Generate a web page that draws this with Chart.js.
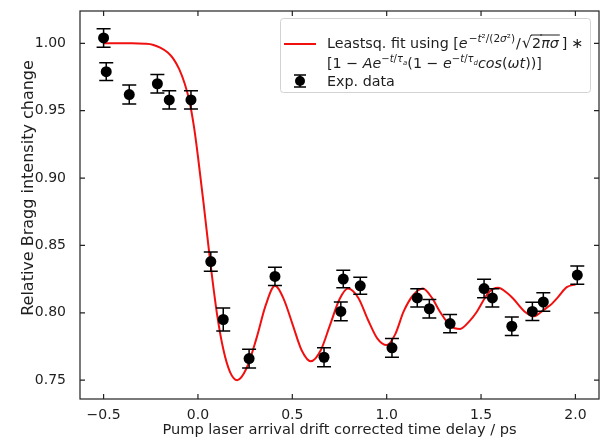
<!DOCTYPE html>
<html>
<head>
<meta charset="utf-8">
<script src="https://cdn.jsdelivr.net/npm/chart.js@4.4.0/dist/chart.umd.min.js"></script>
<style>
  body { margin: 0; background: #fff; }
</style>
</head>
<body>
<canvas id="grafico" width="601" height="439"></canvas>
<script>
// measured data (time delay in ps, relative intensity, error)
const tempo = [-0.500, -0.486, -0.364, -0.215, -0.152, -0.037, 0.068, 0.134, 0.271, 0.408, 0.668, 0.757,
  0.770, 0.860, 1.028, 1.162, 1.226, 1.336, 1.516, 1.560, 1.663, 1.772, 1.830, 2.010];
const intensidade = [1.004, 0.979, 0.962, 0.970, 0.958, 0.958, 0.838, 0.795, 0.766, 0.827, 0.767, 0.801,
  0.825, 0.820, 0.774, 0.811, 0.803, 0.792, 0.818, 0.811, 0.790, 0.801, 0.808, 0.828];
const erro = [0.0069, 0.0065, 0.0071, 0.0068, 0.0068, 0.0068, 0.0071, 0.0086, 0.0069, 0.0068, 0.0071, 0.0070,
  0.0065, 0.0063, 0.0070, 0.0068, 0.0068, 0.0068, 0.0068, 0.0068, 0.0068, 0.0068, 0.0068, 0.0068];

// fit curve
const tempoAjuste = [-0.5, -0.35, -0.28, -0.24, -0.2, -0.16, -0.13, -0.1, -0.07, -0.045, -0.02, 0.0, 0.03,
  0.065, 0.10, 0.135, 0.17, 0.208, 0.258, 0.31, 0.36, 0.408, 0.455, 0.50, 0.55, 0.598, 0.65, 0.70, 0.75,
  0.794, 0.85, 0.90, 0.95, 1.00, 1.045, 1.09, 1.14, 1.192, 1.24, 1.283, 1.34, 1.389, 1.44, 1.477, 1.54,
  1.59, 1.64, 1.671, 1.73, 1.781, 1.83, 1.866, 1.91, 1.954, 2.0];
const valorAjuste = [1.000, 1.000, 0.9997, 0.999, 0.9968, 0.9932, 0.9885, 0.981, 0.970, 0.957, 0.937,
  0.916, 0.881, 0.838, 0.800, 0.7725, 0.756, 0.750, 0.759, 0.781, 0.806, 0.820, 0.810, 0.792, 0.772, 0.764,
  0.772, 0.791, 0.810, 0.818, 0.811, 0.795, 0.781, 0.776, 0.784, 0.801, 0.813, 0.818, 0.811, 0.8006, 0.790,
  0.788, 0.794, 0.8006, 0.815, 0.8185, 0.8145, 0.8104, 0.801, 0.7975, 0.802, 0.8055, 0.812, 0.819, 0.821];

const ticksX = [-0.5, 0.0, 0.5, 1.0, 1.5, 2.0];
const ticksY = [0.75, 0.80, 0.85, 0.90, 0.95, 1.00];

const fonte = '"DejaVu Sans", sans-serif';
const corTexto = '#1e1e1e';

function escreve(ctx, x, y, partes) {
  for (const p of partes) {
    const tam = p.s || 14.3;
    ctx.font = (p.it ? 'italic ' : '') + tam + 'px ' + fonte;
    ctx.fillText(p.t, x, y + (p.dy || 0));
    const w = ctx.measureText(p.t).width;
    if (p.barra) {
      ctx.beginPath();
      ctx.moveTo(x - 1, y - 13);
      ctx.lineTo(x + w + 1, y - 13);
      ctx.lineWidth = 1;
      ctx.strokeStyle = corTexto;
      ctx.stroke();
    }
    x += w + (p.gap || 0);
  }
  return x;
}

const moldura = {
  id: 'moldura',
  afterDatasetsDraw(chart) {
    const ctx = chart.ctx;
    const sx = chart.scales.x, sy = chart.scales.y;
    const a = chart.chartArea;
    ctx.save();
    // error bars
    ctx.strokeStyle = '#000';
    ctx.lineWidth = 1.5;
    tempo.forEach((t, i) => {
      const x = sx.getPixelForValue(t);
      const y1 = sy.getPixelForValue(intensidade[i] - erro[i]);
      const y2 = sy.getPixelForValue(intensidade[i] + erro[i]);
      ctx.beginPath();
      ctx.moveTo(x, y1); ctx.lineTo(x, y2);
      ctx.moveTo(x - 7, y1); ctx.lineTo(x + 7, y1);
      ctx.moveTo(x - 7, y2); ctx.lineTo(x + 7, y2);
      ctx.stroke();
    });
    // frame and inward ticks
    ctx.strokeStyle = '#222';
    ctx.lineWidth = 1.2;
    ctx.strokeRect(a.left, a.top, a.right - a.left, a.bottom - a.top);
    ctx.beginPath();
    ticksX.forEach(v => {
      const x = sx.getPixelForValue(v);
      ctx.moveTo(x, a.bottom); ctx.lineTo(x, a.bottom - 5);
      ctx.moveTo(x, a.top); ctx.lineTo(x, a.top + 5);
    });
    ticksY.forEach(v => {
      const y = sy.getPixelForValue(v);
      ctx.moveTo(a.left, y); ctx.lineTo(a.left + 5, y);
      ctx.moveTo(a.right, y); ctx.lineTo(a.right - 5, y);
    });
    ctx.stroke();

    // y axis title
    ctx.save();
    ctx.translate(29, 188);
    ctx.rotate(-Math.PI / 2);
    ctx.fillStyle = corTexto;
    ctx.font = '16px ' + fonte;
    ctx.textAlign = 'center';
    ctx.textBaseline = 'middle';
    ctx.fillText('Relative Bragg intensity change', 0, 0);
    ctx.restore();

    // legend
    const bx = 280, by = 18, bw = 310, bh = 74;
    ctx.fillStyle = 'rgba(255,255,255,0.85)';
    ctx.strokeStyle = '#d2d2d2';
    ctx.lineWidth = 1;
    ctx.beginPath();
    ctx.roundRect(bx + 0.5, by + 0.5, bw, bh, 3);
    ctx.fill();
    ctx.stroke();

    ctx.strokeStyle = '#f01010';
    ctx.lineWidth = 2;
    ctx.beginPath();
    ctx.moveTo(284, 44); ctx.lineTo(316, 44);
    ctx.stroke();

    ctx.strokeStyle = '#000';
    ctx.lineWidth = 1.5;
    ctx.beginPath();
    ctx.moveTo(300, 75); ctx.lineTo(300, 87);
    ctx.moveTo(294, 75); ctx.lineTo(306, 75);
    ctx.moveTo(294, 87); ctx.lineTo(306, 87);
    ctx.stroke();
    ctx.fillStyle = '#000';
    ctx.beginPath();
    ctx.arc(300, 81, 5, 0, Math.PI * 2);
    ctx.fill();

    ctx.fillStyle = corTexto;
    ctx.textBaseline = 'alphabetic';
    ctx.textAlign = 'left';
    const sup = -6;
    escreve(ctx, 327, 48, [
      { t: 'Leastsq. fit using [' }, { t: 'e', it: 1, gap: 1 },
      { t: '−', s: 10.5, dy: sup }, { t: 't', s: 10.5, dy: sup, it: 1 }, { t: '²', s: 10.5, dy: sup },
      { t: '/(2', s: 10.5, dy: sup }, { t: 'σ', s: 10.5, dy: sup, it: 1 }, { t: '²', s: 10.5, dy: sup },
      { t: ')', s: 10.5, dy: sup, gap: 1 },
      { t: '/', gap: 1 }, { t: '√', s: 16 }, { t: '2', barra: 1 }, { t: 'πσ', it: 1, barra: 1, gap: 3 },
      { t: ']', gap: 4 }, { t: '∗' }
    ]);
    escreve(ctx, 327, 68, [
      { t: '[1 − ' }, { t: 'Ae', it: 1 },
      { t: '−', s: 10, dy: sup }, { t: 't', s: 10, dy: sup, it: 1 }, { t: '/', s: 10, dy: sup },
      { t: 'τ', s: 10, dy: sup, it: 1 }, { t: 'a', s: 7, dy: -3, it: 1 },
      { t: '(1 − ' }, { t: 'e', it: 1 },
      { t: '−', s: 10, dy: sup }, { t: 't', s: 10, dy: sup, it: 1 }, { t: '/', s: 10, dy: sup },
      { t: 'τ', s: 10, dy: sup, it: 1 }, { t: 'd', s: 7, dy: -3, it: 1 },
      { t: 'cos', it: 1 }, { t: '(' }, { t: 'ωt', it: 1 }, { t: '))]' }
    ]);
    escreve(ctx, 327, 86, [{ t: 'Exp. data' }]);
    ctx.restore();
  }
};

const grafico = new Chart(document.getElementById('grafico'), {
  type: 'scatter',
  data: {
    datasets: [
      {
        label: 'Exp. data',
        data: tempo.map((t, i) => ({ x: t, y: intensidade[i] })),
        backgroundColor: '#000',
        borderWidth: 0,
        pointRadius: 5.5,
        order: 0,
      },
      {
        label: 'Leastsq. fit',
        data: tempoAjuste.map((t, i) => ({ x: t, y: valorAjuste[i] })),
        showLine: true,
        borderColor: '#f01010',
        borderWidth: 2,
        pointRadius: 0,
        cubicInterpolationMode: 'monotone',
        order: 1,
      },
    ],
  },
  options: {
    responsive: false,
    animation: false,
    layout: { autoPadding: false, padding: { top: 11, right: 2, left: 0, bottom: 0 } },
    plugins: { legend: { display: false }, tooltip: { enabled: false } },
    scales: {
      x: {
        type: 'linear',
        min: -0.625,
        max: 2.125,
        afterBuildTicks: (s) => { s.ticks = ticksX.map(v => ({ value: v })); },
        afterFit: (s) => { s.height = 40; s.paddingLeft = 0; s.paddingRight = 0; },
        grid: { display: false },
        border: { display: false },
        ticks: {
          padding: 0,
          color: corTexto,
          font: { family: fonte, size: 14 },
          maxRotation: 0,
          callback: (v) => (v < 0 ? '−' : '') + Math.abs(v).toFixed(1),
        },
        title: {
          display: true,
          text: 'Pump laser arrival drift corrected time delay / ps',
          color: corTexto,
          font: { family: fonte, size: 14.6 },
          padding: { top: 0, bottom: 0 },
        },
      },
      y: {
        min: 0.736,
        max: 1.024,
        afterBuildTicks: (s) => { s.ticks = ticksY.map(v => ({ value: v })); },
        afterFit: (s) => { s.width = 80; s.paddingTop = 0; s.paddingBottom = 0; },
        grid: { display: false },
        border: { display: false },
        ticks: {
          padding: 6,
          color: corTexto,
          font: { family: fonte, size: 14 },
          callback: (v) => v.toFixed(2),
        },
      },
    },
  },
  plugins: [moldura],
});
</script>
</body>
</html>
